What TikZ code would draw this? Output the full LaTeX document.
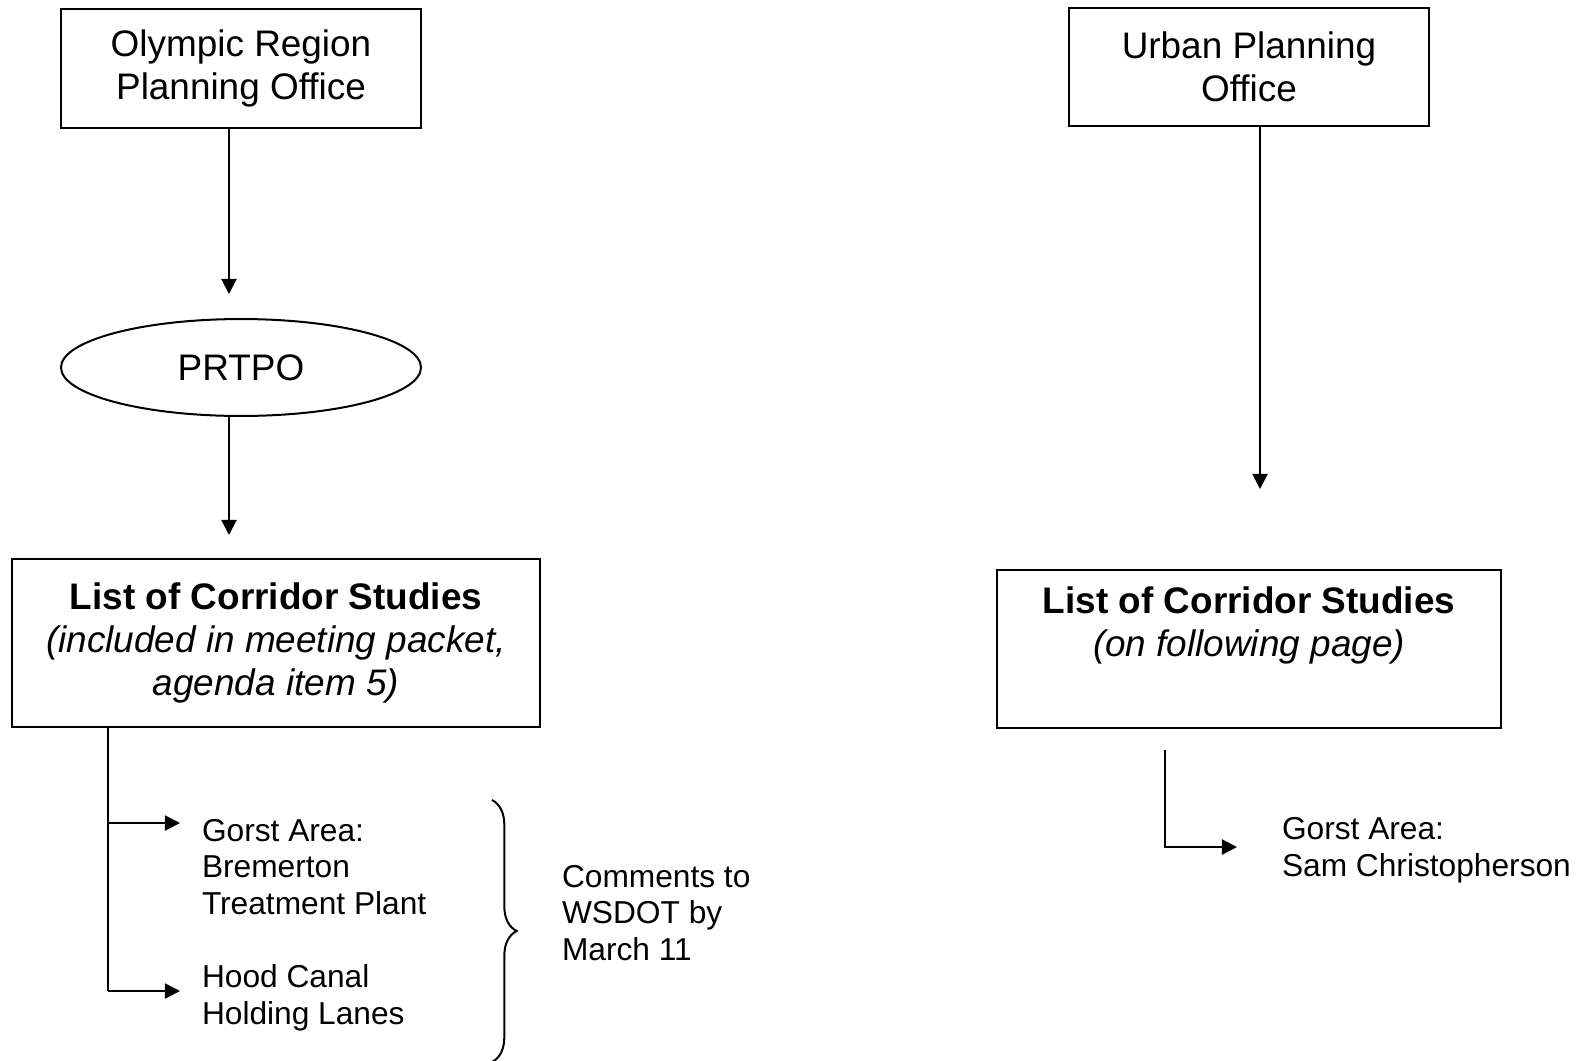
\documentclass[tikz,border=0pt]{standalone}
\usepackage{fontspec}
\setmainfont{Liberation Sans}
\usetikzlibrary{shapes.geometric,arrows.meta,decorations.pathreplacing}

\begin{document}
\begin{tikzpicture}[x=0.325pt, y=-0.325pt, line width=0.65pt,
		box_style/.style={rectangle,draw=black,fill=white,align=center,inner sep=0pt,font=\fontsize{12}{13.85}\selectfont},
		oval_style/.style={ellipse,draw=black,fill=white,inner sep=0pt,minimum width=117pt,minimum height=31.5pt,font=\fontsize{12}{13.85}\selectfont},
		item_style/.style={anchor=base west,align=left,inner sep=0pt,font=\fontsize{10.3}{11.86}\selectfont},
		edge_style/.style={draw=black},
		arrow_style/.style={draw=black,-{Triangle[length=4.9pt,width=4.9pt]}}]

		\useasboundingbox (0,0) rectangle (1590,1060);

		% left side
		\node[box_style,minimum width=117pt,minimum height=38.7pt] (org1) at (241,68.5) {Olympic Region\\Planning Office};
		\node[oval_style] (prtpo) at (241,367.5) {PRTPO};
		\node[box_style,minimum width=171.6pt,minimum height=54.6pt] (list1) at (276,643)
			{\textbf{List of Corridor Studies}\\\textit{(included in meeting packet,}\\\textit{agenda item 5)}};

		% anchored at the baseline of the last line
		\node[item_style] (gorst1) at (201,914) {Gorst Area:\\Bremerton\\Treatment Plant};
		\node[item_style] (hood) at (201,1024) {Hood Canal\\Holding Lanes};
		\node[item_style] (note) at (561,960) {Comments to\\WSDOT by\\March 11};

		\coordinate (t1) at (229,294);
		\coordinate (t2) at (229,535);
		\coordinate (k1) at (108,823);
		\coordinate (k2) at (108,991);
		\coordinate (p1) at (180,823);
		\coordinate (p2) at (180,991);
		\coordinate (br1) at (492,800);
		\coordinate (br2) at (492,1062);

		\draw[arrow_style] (org1.south -| t1) -- (t1);
		\draw[arrow_style] (prtpo.south -| t2) -- (t2);
		\draw[edge_style] (list1.south -| k1) -- (k2);
		\draw[arrow_style] (k1) -- (p1);
		\draw[arrow_style] (k2) -- (p2);
		\draw[edge_style,decorate,decoration={brace,amplitude=8pt}] (br1) -- (br2);

		% right side
		\node[box_style,minimum width=117pt,minimum height=38.4pt] (org2) at (1249,67) {Urban Planning\\Office};
		\node[box_style,minimum width=163.8pt,minimum height=51.4pt] (list2) at (1249,649)
			{\textbf{List of Corridor Studies}\\\textit{(on following page)}\\\strut};

		\node[item_style] (gorst2) at (1281,876) {Gorst Area:\\Sam Christopherson};

		\coordinate (t3) at (1260,489);
		\coordinate (k3) at (1165,750);
		\coordinate (k4) at (1165,847);
		\coordinate (p3) at (1237,847);

		\draw[arrow_style] (org2.south -| t3) -- (t3);
		\draw[arrow_style] (k3) -- (k4) -- (p3);

\end{tikzpicture}
\end{document}
